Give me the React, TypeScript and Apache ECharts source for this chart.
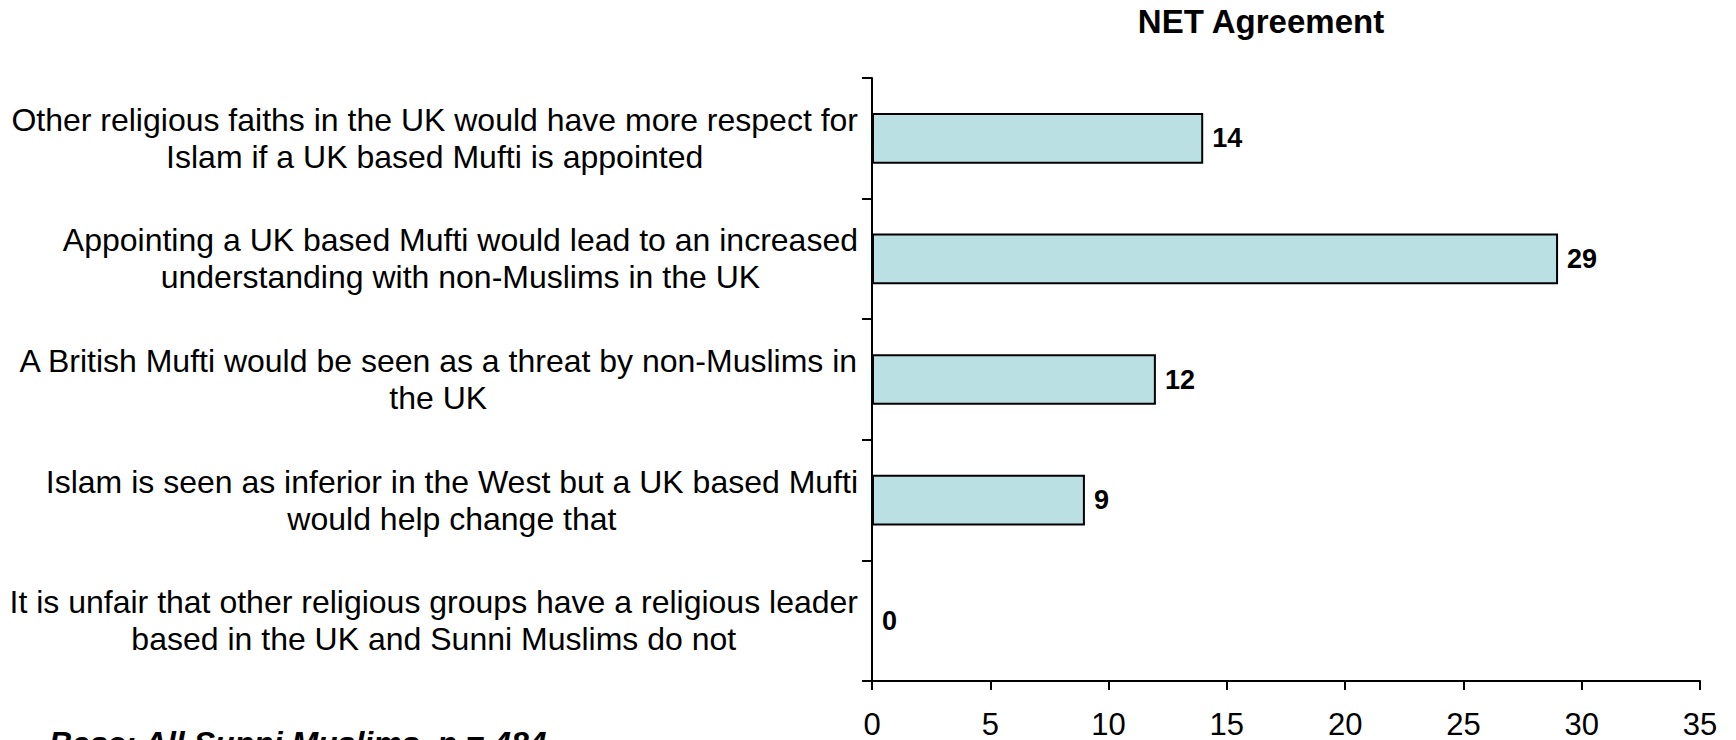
import React, { useEffect, useRef } from "react";
import * as echarts from "echarts";

const categories: string[] = [
  "Other religious faiths in the UK would have more respect for\nIslam if a UK based Mufti is appointed",
  "Appointing a UK based Mufti would lead to an increased\nunderstanding with non-Muslims in the UK",
  "A British Mufti would be seen as a threat by non-Muslims in\nthe UK",
  "Islam is seen as inferior in the West but a UK based Mufti\nwould help change that",
  "It is unfair that other religious groups have a religious leader\nbased in the UK and Sunni Muslims do not",
];
const netAgreement: number[] = [14, 29, 12, 9, 0];
const xTicks = { min: 0, max: 35, interval: 5 };
const chartTitle = "NET Agreement";
const baseNote = "Base: All Sunni Muslims, n = 484";

const FONT = "Arial, 'Liberation Sans', Helvetica, sans-serif";

export default function App() {
  const ref = useRef<HTMLDivElement>(null);
  useEffect(() => {
    if (!ref.current) return;
    const chart = echarts.init(ref.current, null, { renderer: "svg" });
    chart.setOption({
      animation: false,
      backgroundColor: "#ffffff",
      title: [
        {
          text: chartTitle,
          left: 1256,
          top: 0,
          textAlign: "center",
          textStyle: { fontFamily: FONT, fontSize: 33, fontWeight: "bold", color: "#000" },
        },
        {
          text: baseNote,
          left: 44,
          top: 722,
          textStyle: {
            fontFamily: FONT,
            fontSize: 32,
            fontWeight: "bold",
            fontStyle: "italic",
            color: "#000",
          },
        },
      ],
      grid: { left: 872, right: 36, top: 78, bottom: 54 },
      xAxis: {
        type: "value",
        min: xTicks.min,
        max: xTicks.max,
        interval: xTicks.interval,
        splitLine: { show: false },
        axisLine: { show: true, lineStyle: { color: "#000", width: 2 } },
        axisTick: { show: true, length: 9, lineStyle: { color: "#000", width: 2 } },
        axisLabel: { fontFamily: FONT, fontSize: 31, color: "#000", margin: 28 },
      },
      yAxis: {
        type: "category",
        data: categories,
        inverse: true,
        axisLine: { show: true, lineStyle: { color: "#000", width: 2 } },
        axisTick: { show: true, length: 10, alignWithLabel: false, lineStyle: { color: "#000", width: 2 } },
        axisLabel: {
          margin: 14,
          color: "#000",
          fontFamily: FONT,
          fontSize: 32,
          lineHeight: 37,
          formatter: (v: string) =>
            v
              .split("\n")
              .map((l) => `{c|${l}}`)
              .join("\n"),
          rich: {
            c: { align: "center", fontFamily: FONT, fontSize: 32, lineHeight: 37, color: "#000" },
          },
        },
      },
      series: [
        {
          type: "bar",
          data: netAgreement,
          barWidth: "42%",
          itemStyle: { color: "#BAE0E3", borderColor: "#000", borderWidth: 2 },
          label: {
            show: true,
            position: "right",
            distance: 9,
            fontFamily: FONT,
            fontSize: 27,
            fontWeight: "bold",
            color: "#000",
          },
        },
      ],
    });
    return () => chart.dispose();
  }, []);
  return (
    <div
      ref={ref}
      style={{ position: "fixed", left: 0, top: 0, width: 1736, height: 740, background: "#fff" }}
    />
  );
}
